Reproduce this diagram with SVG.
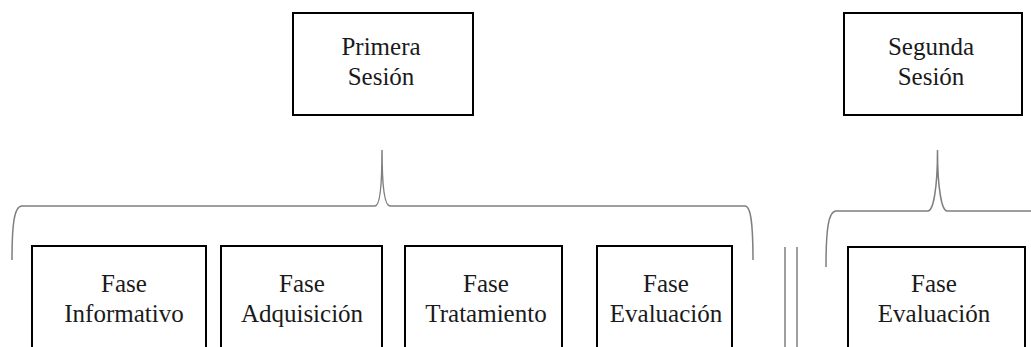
<svg xmlns="http://www.w3.org/2000/svg" width="1031" height="347" viewBox="0 0 1031 347">
<style>
.box{fill:#fff;stroke:#000;stroke-width:2}
.br{fill:none;stroke:#7f7f7f;stroke-width:1.5}
</style>
<rect width="1031" height="347" fill="#fff"/>
<g id="connectors">
<path class="br" d="M12,260 C12,225 14,206 22,206 L375,206 C380,206 382,185 382,150 C382,185 384,206 390,206 L745,206 C751,206 753,225 753,260"/>
<path class="br" d="M826,267 C826,232 828,211 836,211 L928,211 C933,211 937.5,190 937.5,150 C937.5,190 942,211 947,211 L1031,211"/>
<line class="br" x1="785" y1="247" x2="785" y2="347"/>
<line class="br" x1="797" y1="247" x2="797" y2="347"/>
</g>
<g id="nodes" font-family="Liberation Serif" font-size="25" fill="#1a1a1a" text-anchor="middle">
<g id="primera">
<rect class="box" x="293" y="13" width="180" height="102"/>
<text x="381" y="55">Primera</text>
<text x="381" y="85">Sesión</text>
</g>
<g id="segunda">
<rect class="box" x="844" y="13" width="178" height="102"/>
<text x="931" y="55">Segunda</text>
<text x="931" y="85">Sesión</text>
</g>
<g id="informativo">
<rect class="box" x="32" y="246" width="174" height="120"/>
<text x="124" y="292">Fase</text>
<text x="124" y="322">Informativo</text>
</g>
<g id="adquisicion">
<rect class="box" x="221" y="246" width="161" height="120"/>
<text x="302" y="292">Fase</text>
<text x="302" y="322">Adquisición</text>
</g>
<g id="tratamiento">
<rect class="box" x="405" y="246" width="157" height="120"/>
<text x="486" y="292">Fase</text>
<text x="486" y="322">Tratamiento</text>
</g>
<g id="evaluacion1">
<rect class="box" x="597" y="246" width="135" height="120"/>
<text x="666" y="292">Fase</text>
<text x="666" y="322">Evaluación</text>
</g>
<g id="evaluacion2">
<rect class="box" x="848" y="247" width="177" height="120"/>
<text x="934" y="292">Fase</text>
<text x="934" y="322">Evaluación</text>
</g>
</g>
</svg>
